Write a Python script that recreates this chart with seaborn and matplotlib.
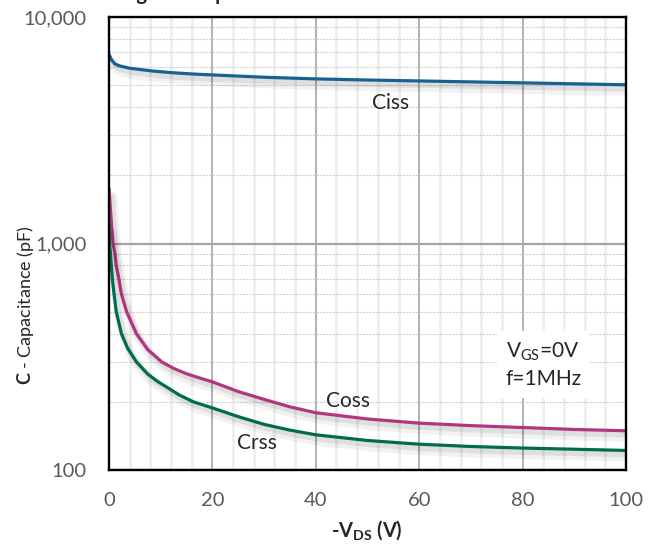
import matplotlib
matplotlib.use("Agg")
import numpy as np
import pandas as pd
import seaborn as sns
import matplotlib.pyplot as plt
from matplotlib import patheffects as pe
from matplotlib import ticker

# ---- data ----
v_iss = [0, 0.5, 1.16, 2.1, 4, 8.3, 12, 16.3, 20, 30, 40, 50, 60, 70, 80, 90, 100]
c_iss = [6840, 6460, 6200, 6080, 5940, 5780, 5680, 5600, 5550, 5420, 5330, 5270, 5220,
         5170, 5120, 5070, 5020]

v_oss = [0, 0.2, 0.5, 0.77, 1.16, 1.4, 1.9, 2.4, 3.4, 5.3, 7.5, 10.2, 12.5, 15, 17.5, 20,
         25, 30, 35, 40, 50, 60, 70, 80, 90, 100]
c_oss = [1760, 1500, 1200, 1000, 900, 800, 700, 600, 500, 400, 340, 300, 281, 266, 255, 245,
         222, 205, 190, 179, 168, 161, 157, 154, 151, 149]

v_rss = [0, 0.1, 0.3, 0.45, 0.64, 0.97, 1.4, 2.4, 3.6, 5.3, 7.5, 9.5, 11.2, 13.5, 16.3, 20,
         25, 30, 35, 40, 50, 60, 70, 80, 90, 100]
c_rss = [1210, 1000, 900, 800, 700, 600, 500, 400, 345, 300, 265, 245, 232, 215, 200, 188,
         172, 159, 150, 143, 135, 130, 127, 125, 123.5, 122]

curve_names = ["Ciss", "Coss", "Crss"]
curve_colors = ["#17628F", "#B2357F", "#006B50"]

x_ticks = [0, 20, 40, 60, 80, 100]
y_ticks = [100, 1000, 10000]

df = pd.concat([
    pd.DataFrame({"V": v_iss, "C": c_iss, "curve": "Ciss"}),
    pd.DataFrame({"V": v_oss, "C": c_oss, "curve": "Coss"}),
    pd.DataFrame({"V": v_rss, "C": c_rss, "curve": "Crss"}),
], ignore_index=True)

sns.set_style("white")
plt.rcParams["font.family"] = ["Lato", "DejaVu Sans"]
plt.rcParams["mathtext.fontset"] = "custom"
plt.rcParams["mathtext.rm"] = "Lato"
plt.rcParams["mathtext.it"] = "Lato:italic"
plt.rcParams["mathtext.bf"] = "Lato:bold"

W, H = 657, 544
fig = plt.figure(figsize=(W / 100, H / 100), dpi=100)
ax = fig.add_axes([109 / W, 1 - 470 / H, (626 - 109) / W, (470 - 17) / H])

sns.lineplot(data=df, x="V", y="C", hue="curve", hue_order=curve_names,
             palette=dict(zip(curve_names, curve_colors)), ax=ax, legend=False,
             linewidth=2.3, sort=False, estimator=None)
for ln in ax.lines:
    ln.set_solid_capstyle("butt")
    ln.set_solid_joinstyle("round")
    ln.set_path_effects([
        pe.SimpleLineShadow(offset=(2.5, -4.5), shadow_color="black", alpha=0.05, linewidth=7),
        pe.SimpleLineShadow(offset=(2, -3), shadow_color="black", alpha=0.08, linewidth=4),
        pe.Normal()])

ax.set_yscale("log")
ax.set_xlim(0, 100)
ax.set_ylim(100, 10000)
ax.set_xticks(x_ticks)
ax.xaxis.set_minor_locator(ticker.MultipleLocator(4))
ax.set_yticks(y_ticks)
ax.yaxis.set_minor_locator(ticker.LogLocator(base=10, subs=np.arange(2, 10)))
ax.yaxis.set_major_formatter(ticker.FuncFormatter(lambda v, p: f"{int(round(v)):,}"))
ax.yaxis.set_minor_formatter(ticker.NullFormatter())

ax.set_axisbelow(True)
ax.grid(which="minor", axis="x", color="#EFEFEF", lw=2.0)
ax.grid(which="major", axis="x", color="#A5A5A5", lw=1.2)
ax.grid(which="minor", axis="y", color="#D0D0D0", lw=0.8, ls=(0, (2, 1)))
ax.grid(which="major", axis="y", color="#A5A5A5", lw=1.6)

ax.tick_params(which="both", length=0)
ax.tick_params(axis="x", pad=16, labelsize=14.5, labelcolor="#595959")
ax.tick_params(axis="y", pad=16, labelsize=14.5, labelcolor="#595959")
for s in ax.spines.values():
    s.set_visible(True)
    s.set_color("black")
    s.set_linewidth(1.7)

ax.set_xlabel("")
ax.set_ylabel("")
fig.text(367 / W, 1 - 530 / H, r"-$\mathbf{V}_{\mathbf{DS}}$ (V)", ha="center", va="center",
         fontsize=14.5, fontweight="bold")
fig.text(26 / W, 1 - 305 / H, r"$\mathbf{C}$ - Capacitance (pF)", ha="center", va="center",
         rotation=90, fontsize=13)

ax.text(54.4, 4170, "Ciss", ha="center", va="center", fontsize=15)
ax.text(46.2, 202, "Coss", ha="center", va="center", fontsize=15)
ax.text(28.7, 131, "Crss", ha="center", va="center", fontsize=15)
ax.text(84.1, 291, "V$_{\\mathrm{GS}}$=0V\nf=1MHz", ha="center", va="center",
        fontsize=15, multialignment="left", linespacing=1.4,
        bbox=dict(boxstyle="square,pad=0.4", facecolor="white", edgecolor="none"))

fig.text(88 / W, 1.0, "Voltage vs. Capacitance", ha="left", va="baseline",
         fontsize=14.5, fontweight="bold")

fig.savefig("out.png", dpi=100)
